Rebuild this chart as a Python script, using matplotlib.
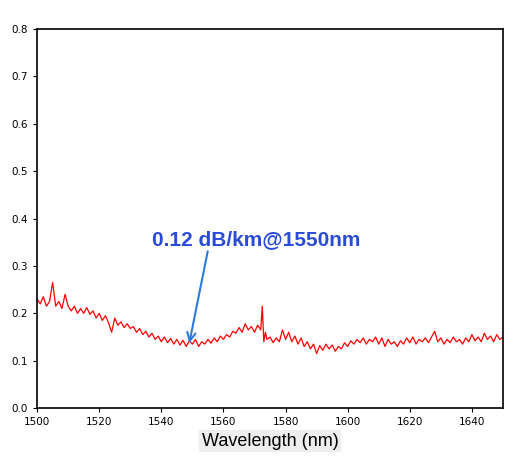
import matplotlib.pyplot as plt

# wavelength (nm) and loss (dB/km)
wavelength = [1500, 1501, 1502, 1503, 1504, 1505, 1506, 1507, 1508, 1509,
              1510, 1511, 1512, 1513, 1514, 1515, 1516, 1517, 1518, 1519,
              1520, 1521, 1522, 1523, 1524, 1525, 1526, 1527, 1528, 1529,
              1530, 1531, 1532, 1533, 1534, 1535, 1536, 1537, 1538, 1539,
              1540, 1541, 1542, 1543, 1544, 1545, 1546, 1547, 1548, 1549,
              1550, 1551, 1552, 1553, 1554, 1555, 1556, 1557, 1558, 1559,
              1560, 1561, 1562, 1563, 1564, 1565, 1566, 1567, 1568, 1569,
              1570, 1571, 1572, 1572.5, 1573, 1573.5, 1574, 1575, 1576, 1577,
              1578, 1579, 1580, 1581, 1582, 1583, 1584, 1585, 1586, 1587,
              1588, 1589, 1590, 1591, 1592, 1593, 1594, 1595, 1596, 1597,
              1598, 1599, 1600, 1601, 1602, 1603, 1604, 1605, 1606, 1607,
              1608, 1609, 1610, 1611, 1612, 1613, 1614, 1615, 1616, 1617,
              1618, 1619, 1620, 1621, 1622, 1623, 1624, 1625, 1626, 1627,
              1628, 1629, 1630, 1631, 1632, 1633, 1634, 1635, 1636, 1637,
              1638, 1639, 1640, 1641, 1642, 1643, 1644, 1645, 1646, 1647,
              1648, 1649, 1650]
loss = [0.23, 0.22, 0.235, 0.215, 0.225, 0.265, 0.215, 0.225, 0.21, 0.24,
        0.215, 0.205, 0.215, 0.2, 0.21, 0.2, 0.212, 0.198, 0.205, 0.19,
        0.2, 0.185, 0.195, 0.18, 0.16, 0.19, 0.175, 0.182, 0.17, 0.178,
        0.168, 0.172, 0.16, 0.168, 0.155, 0.162, 0.15, 0.158, 0.145, 0.152,
        0.14, 0.15, 0.138, 0.147, 0.135, 0.145, 0.133, 0.143, 0.13, 0.142,
        0.135, 0.145, 0.13, 0.14, 0.135, 0.145, 0.137, 0.148, 0.14, 0.152,
        0.145, 0.155, 0.15, 0.162, 0.158, 0.17, 0.16, 0.178, 0.165, 0.172,
        0.16, 0.175, 0.165, 0.215, 0.14, 0.16, 0.145, 0.15, 0.138, 0.148,
        0.14, 0.165, 0.145, 0.16, 0.14, 0.152, 0.135, 0.148, 0.13, 0.14,
        0.125, 0.135, 0.115, 0.132, 0.122, 0.135, 0.125, 0.133, 0.12, 0.13,
        0.125, 0.138, 0.13, 0.142, 0.135, 0.145, 0.138, 0.148, 0.135, 0.145,
        0.14, 0.15, 0.135, 0.148, 0.13, 0.145, 0.135, 0.14, 0.13, 0.142,
        0.135, 0.148, 0.138, 0.15, 0.135, 0.145, 0.14, 0.148, 0.138, 0.15,
        0.162, 0.14, 0.148, 0.135, 0.145, 0.138, 0.15, 0.14, 0.145, 0.135,
        0.148, 0.14, 0.155, 0.142, 0.15, 0.14, 0.158, 0.145, 0.152, 0.14,
        0.155, 0.145, 0.15]

fig = plt.figure(figsize=(5.3, 4.74), dpi=100)
ax = fig.add_axes([0.07, 0.139, 0.879, 0.8])
ax.plot(wavelength, loss, color='red', linewidth=0.9)
ax.set_xlim(1500, 1650)
ax.set_ylim(0, 0.8)
ax.set_xticks(range(1500, 1651, 20))
ax.set_yticks([i / 10 for i in range(9)])
ax.tick_params(labelsize=7.5, direction='out', length=3)
for s in ax.spines.values():
    s.set_linewidth(1.2)

ax.set_xlabel('Wavelength (nm)', fontsize=13, family='Liberation Sans',
              bbox=dict(facecolor='#eeeeee', edgecolor='none', pad=2))

ax.annotate('0.12 dB/km@1550nm', xy=(1549, 0.137), xytext=(1537, 0.345),
            fontsize=15, fontweight='bold', color='#2a4bd7',
            family='Liberation Sans',
            arrowprops=dict(arrowstyle='->', color='#2a7be0', lw=1.5,
                            shrinkA=0, shrinkB=0,
                            relpos=(0.27, 0.0)))

plt.savefig('out.png', dpi=100, facecolor='white')
